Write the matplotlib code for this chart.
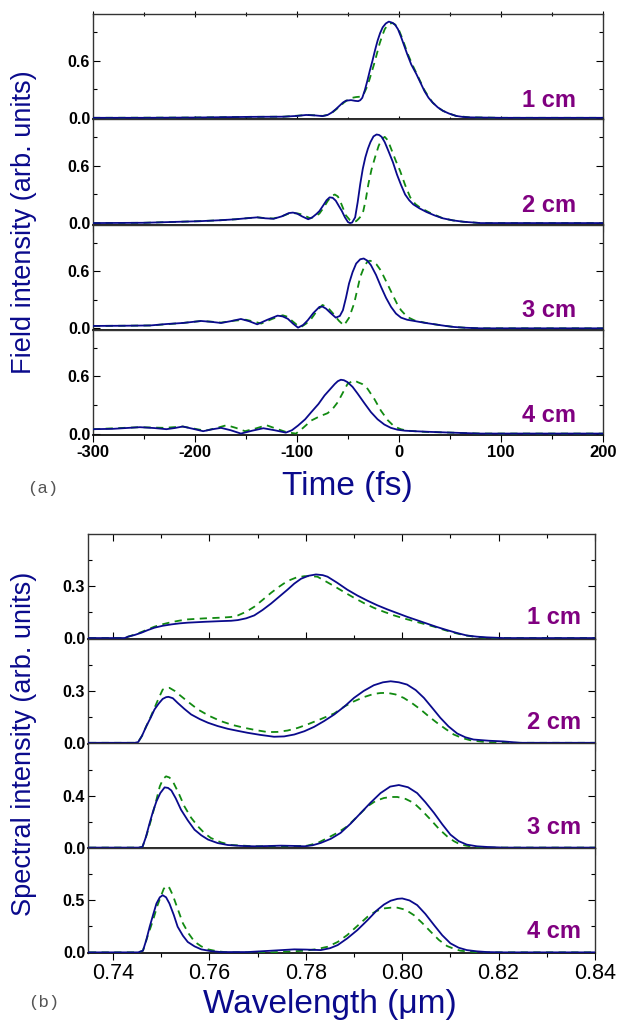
import numpy as np
import matplotlib
matplotlib.use("Agg")
import matplotlib.pyplot as plt

plt.rcParams["font.family"] = ["Liberation Sans", "DejaVu Sans"]

NAVY = "#0a0a8c"
GREEN = "#118a11"
PURPLE = "#800080"

labels = ["1 cm", "2 cm", "3 cm", "4 cm"]

# ---- (a) temporal field intensity: (time fs, value) ----
field_1cm_solid = [(-300, 0.0), (-250, 0.0), (-200, 0.003), (-146, 0.01), (-113, 0.012), (-100, 0.02), (-91, 0.03),
                   (-82, 0.025), (-75, 0.018), (-70, 0.03), (-66, 0.055), (-62, 0.09), (-58, 0.13), (-55, 0.16),
                   (-52, 0.18), (-47, 0.186), (-43, 0.178), (-40, 0.175), (-38, 0.185), (-36, 0.21), (-33.5, 0.29),
                   (-31, 0.39), (-28.5, 0.50), (-26, 0.60), (-23.5, 0.71), (-21, 0.81), (-18.5, 0.89), (-16, 0.95),
                   (-13, 0.99), (-10, 1.01), (-7, 1.0), (-4, 0.98), (-1, 0.93), (2, 0.85), (5, 0.76), (8, 0.67),
                   (12, 0.56), (17, 0.46), (21, 0.37), (25, 0.28), (29, 0.21), (33, 0.16), (38, 0.11), (43, 0.074),
                   (49, 0.045), (56, 0.02), (62, 0.01), (69, 0.005), (100, 0.0), (200, 0.0)]
field_1cm_dash = [(-300, 0.0), (-200, 0.003), (-146, 0.01), (-113, 0.012), (-100, 0.022), (-90, 0.03), (-80, 0.025),
                  (-75, 0.02), (-70, 0.03), (-66, 0.05), (-62, 0.085), (-58, 0.12), (-54, 0.16), (-50, 0.19),
                  (-46, 0.21), (-42, 0.218), (-38, 0.222), (-35, 0.24), (-32, 0.31), (-29, 0.40), (-26.5, 0.49),
                  (-24, 0.58), (-21.5, 0.68), (-19, 0.78), (-16.5, 0.86), (-14, 0.93), (-11.5, 0.97), (-9, 0.99),
                  (-6, 0.995), (-3, 0.97), (0, 0.92), (3, 0.84), (6, 0.75), (9, 0.66), (13, 0.56), (17, 0.47),
                  (21, 0.38), (25, 0.29), (29, 0.22), (33, 0.16), (38, 0.11), (43, 0.074), (49, 0.045), (56, 0.02),
                  (69, 0.005), (100, 0.0), (200, 0.0)]

field_2cm_solid = [(-300, 0.0), (-250, 0.003), (-195, 0.02), (-175, 0.03), (-160, 0.04), (-150, 0.05), (-139, 0.06),
                   (-131, 0.05), (-123, 0.045), (-115, 0.07), (-108, 0.105), (-104, 0.11), (-100, 0.1), (-95, 0.07),
                   (-89, 0.04), (-85, 0.06), (-81, 0.095), (-78, 0.126), (-74, 0.19), (-71, 0.24), (-68, 0.27),
                   (-65, 0.265), (-62, 0.235), (-59, 0.18), (-56, 0.126), (-53, 0.06), (-50, 0.01), (-48, 0.0),
                   (-46, 0.005), (-43, 0.06), (-40.5, 0.22), (-38, 0.41), (-35.5, 0.57), (-33, 0.69), (-30.5, 0.78),
                   (-28, 0.85), (-25, 0.91), (-22, 0.93), (-19.5, 0.925), (-17, 0.905), (-14, 0.85), (-10.5, 0.76),
                   (-6, 0.64), (-2, 0.51), (2, 0.40), (6, 0.30), (10, 0.24), (14, 0.196), (20, 0.155), (27, 0.116),
                   (35, 0.08), (43, 0.05), (53, 0.028), (63, 0.014), (80, 0.0), (200, 0.0)]
field_2cm_dash = [(-300, 0.0), (-250, 0.003), (-195, 0.02), (-175, 0.03), (-160, 0.04), (-150, 0.05), (-139, 0.06),
                  (-131, 0.052), (-123, 0.048), (-115, 0.07), (-108, 0.1), (-104, 0.105), (-99, 0.1), (-95, 0.09),
                  (-87, 0.05), (-82, 0.07), (-78, 0.1), (-74, 0.16), (-70, 0.23), (-66, 0.285), (-63, 0.30),
                  (-60, 0.28), (-58, 0.24), (-55, 0.16), (-52, 0.08), (-48, 0.03), (-45, 0.014), (-42, 0.02),
                  (-40, 0.04), (-37.5, 0.07), (-35, 0.126), (-32.5, 0.25), (-30, 0.41), (-27, 0.56), (-23.5, 0.69),
                  (-20, 0.81), (-17, 0.88), (-14, 0.905), (-11, 0.87), (-7, 0.76), (-3, 0.65), (1, 0.55), (6, 0.40),
                  (11, 0.27), (16, 0.2), (21, 0.16), (30, 0.11), (43, 0.05), (53, 0.028), (63, 0.014), (80, 0.0),
                  (200, 0.0)]

field_3cm_solid = [(-300, 0.025), (-270, 0.027), (-244, 0.03), (-228, 0.045), (-212, 0.056), (-194, 0.077),
                   (-184, 0.068), (-174.5, 0.056), (-165, 0.075), (-155, 0.098), (-147, 0.075), (-139, 0.042),
                   (-129, 0.09), (-119, 0.133), (-114, 0.125), (-109, 0.10), (-104, 0.05), (-99, 0.007), (-94, 0.035),
                   (-89.5, 0.084), (-84, 0.16), (-78, 0.225), (-75, 0.228), (-71.6, 0.207), (-67, 0.16), (-62, 0.112),
                   (-58, 0.13), (-55, 0.19), (-52, 0.32), (-49, 0.47), (-45.5, 0.59), (-42, 0.68), (-38, 0.725),
                   (-34.6, 0.733), (-31, 0.71), (-27.5, 0.663), (-22.5, 0.56), (-17.6, 0.435), (-12.7, 0.32),
                   (-7.8, 0.225), (-3, 0.155), (2, 0.112), (8, 0.09), (15, 0.077), (25, 0.058), (35, 0.042),
                   (45, 0.026), (54, 0.014), (65, 0.006), (80, 0.0), (200, 0.0)]
field_3cm_dash = [(-300, 0.025), (-270, 0.027), (-244, 0.03), (-212, 0.056), (-194, 0.077), (-184, 0.07),
                  (-174.5, 0.06), (-162, 0.08), (-150, 0.09), (-142, 0.07), (-135, 0.05), (-124, 0.1), (-114, 0.137),
                  (-109, 0.12), (-105, 0.08), (-100, 0.035), (-96, 0.014), (-91, 0.05), (-86, 0.1), (-80, 0.19),
                  (-75, 0.245), (-70, 0.22), (-65, 0.16), (-59, 0.08), (-54, 0.03), (-49, 0.11), (-44, 0.26),
                  (-41, 0.40), (-38, 0.54), (-34, 0.65), (-31, 0.70), (-28.5, 0.71), (-26, 0.70), (-22, 0.67),
                  (-18, 0.61), (-12, 0.48), (-6, 0.347), (-2, 0.26), (2, 0.19), (8, 0.12), (15, 0.084), (25, 0.06),
                  (35, 0.042), (45, 0.026), (54, 0.014), (65, 0.006), (80, 0.0), (200, 0.0)]

field_4cm_solid = [(-300, 0.046), (-280, 0.05), (-254, 0.067), (-240, 0.058), (-228, 0.046), (-220, 0.058),
                   (-212, 0.074), (-202, 0.05), (-192, 0.025), (-183, 0.045), (-174.5, 0.06), (-165, 0.035),
                   (-155, 0.0), (-144, 0.03), (-133, 0.056), (-122, 0.035), (-111, 0.01), (-105, 0.035), (-99, 0.084),
                   (-92, 0.15), (-86, 0.225), (-79, 0.31), (-73, 0.40), (-68, 0.46), (-63, 0.52), (-60, 0.55),
                   (-57, 0.565), (-54, 0.56), (-50.5, 0.54), (-45.5, 0.49), (-40.6, 0.42), (-34, 0.32),
                   (-27.5, 0.225), (-21, 0.15), (-14.4, 0.095), (-8, 0.06), (-1.3, 0.04), (6, 0.03), (15, 0.025),
                   (30, 0.018), (51, 0.01), (65, 0.005), (80, 0.0), (200, 0.0)]
field_4cm_dash = [(-300, 0.046), (-254, 0.067), (-230, 0.06), (-212, 0.074), (-200, 0.05), (-190, 0.03),
                  (-180, 0.055), (-169, 0.088), (-160, 0.06), (-151, 0.025), (-140, 0.055), (-130, 0.088),
                  (-120, 0.05), (-110, 0.014), (-101, 0.0), (-94, 0.06), (-86, 0.137), (-78, 0.18), (-70, 0.214),
                  (-65, 0.26), (-60, 0.33), (-55, 0.43), (-50.5, 0.52), (-46, 0.55), (-43, 0.555), (-40.6, 0.54),
                  (-36, 0.52), (-30.8, 0.47), (-24, 0.36), (-17.7, 0.24), (-11, 0.14), (-4.6, 0.074), (2, 0.045),
                  (8.5, 0.03), (25, 0.018), (51, 0.01), (65, 0.005), (80, 0.0), (200, 0.0)]

# ---- (b) spectral intensity: (wavelength um, value) ----
spec_1cm_solid = [(0.735, 0.0), (0.7424, 0.0), (0.7431, 0.008), (0.7445, 0.018), (0.7459, 0.031), (0.7472, 0.046),
                  (0.7486, 0.06), (0.7503, 0.071), (0.7521, 0.079), (0.7538, 0.085), (0.7555, 0.089), (0.7590, 0.094),
                  (0.7624, 0.098), (0.7645, 0.1), (0.7659, 0.104), (0.7676, 0.114), (0.7693, 0.131), (0.7710, 0.162),
                  (0.7728, 0.20), (0.7745, 0.24), (0.7762, 0.28), (0.7776, 0.315), (0.7790, 0.343), (0.7805, 0.36),
                  (0.7821, 0.368), (0.7835, 0.364), (0.7845, 0.355), (0.7865, 0.32), (0.7886, 0.28), (0.7907, 0.246),
                  (0.7928, 0.216), (0.7948, 0.19), (0.7969, 0.166), (0.7990, 0.144), (0.8010, 0.123), (0.8031, 0.103),
                  (0.8052, 0.083), (0.8072, 0.064), (0.8093, 0.046), (0.8114, 0.029), (0.8134, 0.015), (0.8155, 0.008),
                  (0.8176, 0.004), (0.8210, 0.0), (0.84, 0.0)]
spec_1cm_dash = [(0.735, 0.0), (0.7424, 0.0), (0.7431, 0.008), (0.7445, 0.02), (0.7459, 0.035), (0.7472, 0.05),
                 (0.7486, 0.066), (0.7503, 0.08), (0.7521, 0.092), (0.7538, 0.101), (0.7555, 0.108), (0.7590, 0.114),
                 (0.7624, 0.118), (0.7645, 0.122), (0.7659, 0.131), (0.7676, 0.152), (0.7693, 0.181), (0.7710, 0.22),
                 (0.7728, 0.262), (0.7745, 0.298), (0.7762, 0.33), (0.7780, 0.35), (0.7797, 0.358), (0.7810, 0.358),
                 (0.7824, 0.355), (0.7840, 0.33), (0.7859, 0.30), (0.7880, 0.265), (0.7900, 0.233), (0.7920, 0.203),
                 (0.7941, 0.175), (0.7962, 0.152), (0.7983, 0.131), (0.8003, 0.114), (0.8024, 0.098), (0.8045, 0.082),
                 (0.8066, 0.066), (0.8086, 0.048), (0.8107, 0.031), (0.8128, 0.017), (0.8148, 0.008), (0.8176, 0.0),
                 (0.84, 0.0)]

spec_2cm_solid = [(0.735, 0.0), (0.7445, 0.0), (0.7452, 0.004), (0.7460, 0.04), (0.7469, 0.096), (0.7478, 0.145),
                  (0.7486, 0.193), (0.7495, 0.228), (0.7503, 0.254), (0.7510, 0.264), (0.7515, 0.266), (0.7524, 0.258),
                  (0.7534, 0.231), (0.7548, 0.196), (0.7562, 0.164), (0.7580, 0.137), (0.7597, 0.116), (0.7617, 0.097),
                  (0.7638, 0.081), (0.7659, 0.069), (0.7679, 0.058), (0.7705, 0.046), (0.7734, 0.035), (0.7755, 0.037),
                  (0.7776, 0.048), (0.7797, 0.067), (0.7817, 0.092), (0.7838, 0.126), (0.7859, 0.164), (0.7880, 0.21),
                  (0.7900, 0.26), (0.7920, 0.3), (0.7941, 0.333), (0.7960, 0.35), (0.7976, 0.356), (0.7993, 0.35),
                  (0.8010, 0.337), (0.8028, 0.305), (0.8045, 0.26), (0.8062, 0.203), (0.8079, 0.145), (0.8096, 0.095),
                  (0.8114, 0.054), (0.8131, 0.032), (0.8148, 0.019), (0.8180, 0.012), (0.8210, 0.008), (0.8245, 0.0),
                  (0.84, 0.0)]
spec_2cm_dash = [(0.735, 0.0), (0.7445, 0.0), (0.7452, 0.004), (0.7460, 0.04), (0.7469, 0.096), (0.7478, 0.15),
                 (0.7486, 0.202), (0.7495, 0.26), (0.7503, 0.308), (0.7510, 0.316), (0.7517, 0.318), (0.7528, 0.30),
                 (0.7541, 0.27), (0.7558, 0.232), (0.7576, 0.193), (0.7600, 0.155), (0.7624, 0.125), (0.7648, 0.103),
                 (0.7672, 0.087), (0.7697, 0.073), (0.7721, 0.062), (0.7741, 0.063), (0.7762, 0.071), (0.7783, 0.086),
                 (0.7803, 0.106), (0.7830, 0.136), (0.7859, 0.17), (0.7880, 0.21), (0.7900, 0.24), (0.7920, 0.264),
                 (0.7941, 0.283), (0.7955, 0.288), (0.7969, 0.289), (0.7986, 0.28), (0.8003, 0.26), (0.8020, 0.23),
                 (0.8038, 0.193), (0.8055, 0.153), (0.8072, 0.116), (0.8090, 0.08), (0.8107, 0.048), (0.8124, 0.028),
                 (0.8141, 0.015), (0.8170, 0.005), (0.8210, 0.0), (0.84, 0.0)]

spec_3cm_solid = [(0.735, 0.0), (0.7452, 0.0), (0.7461, 0.005), (0.7468, 0.08), (0.7476, 0.19), (0.7483, 0.28),
                  (0.7490, 0.356), (0.7498, 0.42), (0.7507, 0.464), (0.7514, 0.46), (0.7521, 0.44), (0.7530, 0.38),
                  (0.7541, 0.292), (0.7555, 0.21), (0.7569, 0.138), (0.7583, 0.095), (0.7597, 0.062), (0.7617, 0.035),
                  (0.7638, 0.02), (0.7665, 0.013), (0.7693, 0.01), (0.7720, 0.012), (0.7748, 0.015), (0.7775, 0.013),
                  (0.7797, 0.01), (0.7814, 0.018), (0.7831, 0.036), (0.7852, 0.068), (0.7872, 0.113), (0.7893, 0.185),
                  (0.7914, 0.267), (0.7934, 0.345), (0.7955, 0.42), (0.7975, 0.47), (0.7993, 0.482), (0.8012, 0.465),
                  (0.8031, 0.42), (0.8048, 0.35), (0.8066, 0.267), (0.8083, 0.18), (0.8100, 0.10), (0.8117, 0.05),
                  (0.8134, 0.023), (0.8155, 0.01), (0.8176, 0.005), (0.8210, 0.0), (0.84, 0.0)]
spec_3cm_dash = [(0.735, 0.0), (0.7452, 0.0), (0.7461, 0.005), (0.7470, 0.1), (0.7479, 0.215), (0.7488, 0.34),
                 (0.7497, 0.472), (0.7504, 0.53), (0.7510, 0.549), (0.7517, 0.54), (0.7524, 0.51), (0.7536, 0.42),
                 (0.7548, 0.318), (0.7562, 0.23), (0.7576, 0.164), (0.7590, 0.11), (0.7603, 0.074), (0.7624, 0.04),
                 (0.7645, 0.02), (0.7693, 0.01), (0.7762, 0.01), (0.7803, 0.015), (0.7824, 0.035), (0.7845, 0.074),
                 (0.7866, 0.115), (0.7886, 0.164), (0.7907, 0.24), (0.7928, 0.318), (0.7945, 0.36), (0.7962, 0.382),
                 (0.7976, 0.39), (0.7990, 0.39), (0.8007, 0.375), (0.8024, 0.344), (0.8041, 0.285), (0.8059, 0.215),
                 (0.8076, 0.145), (0.8093, 0.087), (0.8107, 0.05), (0.8121, 0.023), (0.8148, 0.005), (0.8176, 0.0),
                 (0.84, 0.0)]

spec_4cm_solid = [(0.735, 0.0), (0.7452, 0.0), (0.7462, 0.016), (0.7469, 0.12), (0.7476, 0.247), (0.7483, 0.36),
                  (0.7490, 0.47), (0.7497, 0.53), (0.7503, 0.55), (0.7510, 0.53), (0.7517, 0.47), (0.7526, 0.36),
                  (0.7534, 0.247), (0.7545, 0.16), (0.7555, 0.10), (0.7569, 0.058), (0.7583, 0.029), (0.7603, 0.012),
                  (0.7624, 0.003), (0.7679, 0.003), (0.7728, 0.016), (0.7776, 0.029), (0.7800, 0.027), (0.7831, 0.022),
                  (0.7850, 0.04), (0.7866, 0.07), (0.7886, 0.135), (0.7907, 0.215), (0.7928, 0.31), (0.7948, 0.407),
                  (0.7962, 0.46), (0.7976, 0.497), (0.7990, 0.515), (0.8000, 0.519), (0.8015, 0.5), (0.8031, 0.455),
                  (0.8048, 0.37), (0.8066, 0.263), (0.8083, 0.165), (0.8100, 0.087), (0.8117, 0.045), (0.8134, 0.022),
                  (0.8155, 0.01), (0.8176, 0.003), (0.8210, 0.0), (0.84, 0.0)]
spec_4cm_dash = [(0.735, 0.0), (0.7452, 0.0), (0.7462, 0.016), (0.7472, 0.16), (0.7483, 0.311), (0.7492, 0.45),
                 (0.7500, 0.55), (0.7505, 0.61), (0.7510, 0.641), (0.7517, 0.62), (0.7524, 0.55), (0.7534, 0.42),
                 (0.7545, 0.279), (0.7557, 0.18), (0.7569, 0.103), (0.7583, 0.058), (0.7597, 0.029), (0.7617, 0.01),
                 (0.7638, 0.0), (0.7728, 0.0), (0.7797, 0.016), (0.7821, 0.03), (0.7845, 0.054), (0.7866, 0.1),
                 (0.7886, 0.167), (0.7907, 0.255), (0.7928, 0.343), (0.7945, 0.395), (0.7962, 0.423), (0.7976, 0.43),
                 (0.7990, 0.43), (0.8007, 0.41), (0.8024, 0.359), (0.8041, 0.285), (0.8059, 0.199), (0.8076, 0.12),
                 (0.8093, 0.061), (0.8107, 0.035), (0.8121, 0.016), (0.8148, 0.004), (0.8162, 0.0), (0.84, 0.0)]

time_solid = [field_1cm_solid, field_2cm_solid, field_3cm_solid, field_4cm_solid]
time_dash = [field_1cm_dash, field_2cm_dash, field_3cm_dash, field_4cm_dash]
spec_solid = [spec_1cm_solid, spec_2cm_solid, spec_3cm_solid, spec_4cm_solid]
spec_dash = [spec_1cm_dash, spec_2cm_dash, spec_3cm_dash, spec_4cm_dash]

spec_ylims = [(-0.004, 0.602), (-0.004, 0.602), (-0.005, 0.802), (-0.006, 1.002)]
spec_major = [[0, 0.3], [0, 0.3], [0, 0.4], [0, 0.5]]
spec_minor = [[0.15, 0.45], [0.15, 0.45], [0.2, 0.6], [0.25, 0.75]]

W, H = 618, 1023
fig = plt.figure(figsize=(W / 100, H / 100), dpi=100)

gs_a = fig.add_gridspec(4, 1, left=93 / W, right=603 / W, top=1 - 14 / H, bottom=1 - 435 / H, hspace=0)
gs_b = fig.add_gridspec(4, 1, left=88 / W, right=595 / W, top=1 - 534 / H, bottom=1 - 953 / H, hspace=0)


def draw_pair(ax, solid, dash):
    xd, yd = zip(*dash)
    xs, ys = zip(*solid)
    ax.plot(xd, yd, color=GREEN, lw=1.3, ls=(0, (4, 3)), zorder=3)
    ax.plot(xs, ys, color=NAVY, lw=1.3, zorder=4, solid_joinstyle="round")


def style_axis(ax, first, last):
    for sp in ax.spines.values():
        sp.set_color("#333333")
        sp.set_linewidth(1.0)
    ax.spines["bottom"].set_color("#111111")
    ax.spines["bottom"].set_linewidth(1.3)
    ax.tick_params(axis="y", which="both", left=True, right=True, direction="out", pad=2)
    ax.tick_params(axis="y", which="both", right=True, direction="in")
    ax.tick_params(axis="y", which="major", length=5, width=0.8)
    ax.tick_params(axis="y", which="minor", length=3, width=0.8)
    ax.tick_params(axis="x", which="both", bottom=True, top=first, direction="out", pad=2)
    ax.tick_params(axis="x", which="major", length=5, width=0.8)
    ax.tick_params(axis="x", which="minor", length=3, width=0.8)
    if not last:
        ax.tick_params(axis="x", labelbottom=False)


# panel (a)
for i in range(4):
    ax = fig.add_subplot(gs_a[i])
    draw_pair(ax, time_solid[i], time_dash[i])
    ax.set_xlim(-300, 200)
    ax.set_ylim(-0.015, 1.09)
    ax.set_yticks([0, 0.6])
    ax.set_yticks([0.3, 0.9], minor=True)
    ax.set_yticklabels(["0.0", "0.6"], fontsize=11.5, fontweight="bold")
    ax.set_xticks([-300, -200, -100, 0, 100, 200])
    ax.set_xticks(np.arange(-250, 200, 100), minor=True)
    style_axis(ax, i == 0, i == 3)
    if i == 0:
        ax.tick_params(axis="x", which="both", top=True, direction="inout")
    if i == 3:
        ax.set_xticklabels(["-300", "-200", "-100", "0", "100", "200"], fontsize=12, fontweight="bold")
    ax.text(0.948, 0.12, labels[i], transform=ax.transAxes, ha="right", va="baseline",
            fontsize=17, fontweight="bold", color=PURPLE)

# panel (b)
for i in range(4):
    ax = fig.add_subplot(gs_b[i])
    draw_pair(ax, spec_solid[i], spec_dash[i])
    ax.set_xlim(0.7348, 0.84)
    ax.set_ylim(*spec_ylims[i])
    ax.set_yticks(spec_major[i])
    ax.set_yticks(spec_minor[i], minor=True)
    ax.set_yticklabels([f"{v:.1f}" for v in spec_major[i]], fontsize=11.5, fontweight="bold")
    ax.set_xticks([0.74, 0.76, 0.78, 0.80, 0.82, 0.84])
    ax.set_xticks(np.arange(0.75, 0.84, 0.02), minor=True)
    style_axis(ax, i == 0, i == 3)
    if i == 0:
        ax.tick_params(axis="x", which="both", top=True, direction="in")
    if i == 3:
        ax.set_xticklabels(["0.74", "0.76", "0.78", "0.80", "0.82", "0.84"], fontsize=15.5)
    ax.text(0.972, 0.14, labels[i], transform=ax.transAxes, ha="right", va="baseline",
            fontsize=17, fontweight="bold", color=PURPLE)

fig.text(24 / W, 1 - 222 / H, "Field intensity (arb. units)", rotation=90, ha="center", va="center",
         fontsize=19.5, color=NAVY)
fig.text(347 / W, 1 - 486 / H, "Time (fs)", ha="center", va="center", fontsize=24, color=NAVY)
fig.text(24 / W, 1 - 744 / H, "Spectral intensity (arb. units)", rotation=90, ha="center", va="center",
         fontsize=19.5, color=NAVY)
fig.text(330 / W, 1 - 1004 / H, "Wavelength (\u03bcm)", ha="center", va="center", fontsize=24, color=NAVY)
fig.text(27 / W, 1 - 488 / H, "(a)", ha="left", va="center", fontsize=12.5, color="#555555",
         family=["Liberation Mono", "DejaVu Sans Mono"])
fig.text(28 / W, 1 - 1002 / H, "(b)", ha="left", va="center", fontsize=12.5, color="#555555",
         family=["Liberation Mono", "DejaVu Sans Mono"])

fig.savefig("out.png", dpi=100)
